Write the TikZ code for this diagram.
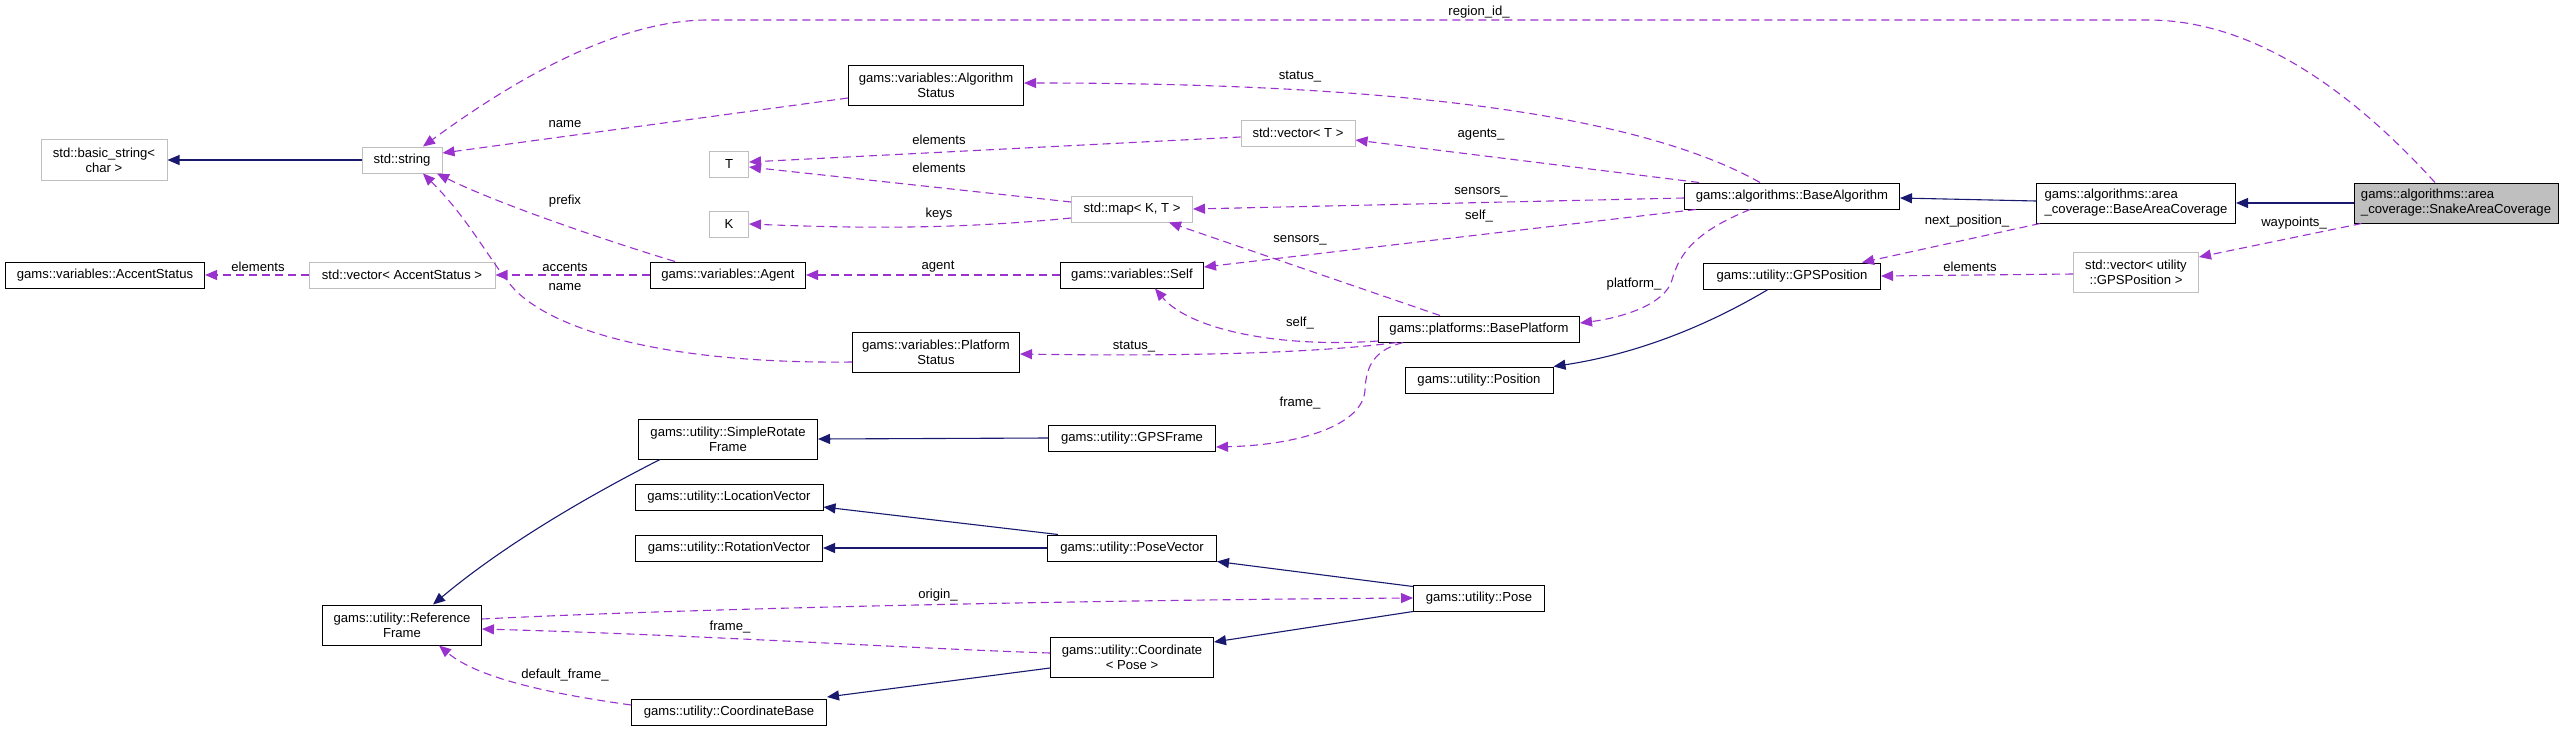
\documentclass[tikz,border=0pt]{standalone}
\usepackage{fontspec}
\setmainfont{Liberation Sans}
\usetikzlibrary{arrows.meta}
\definecolor{navyc}{HTML}{191970}
\definecolor{purpc}{HTML}{9A32CD}
\definecolor{gbord}{HTML}{BFBFBF}
\newcommand\dxfont{\fontsize{13.1}{15}\selectfont}
\begin{document}
\begin{tikzpicture}[x=1pt,y=-1pt,
 box/.style={draw=black, line width=1pt, fill=white, inner sep=0pt, font=\dxfont, align=center},
 sbox/.style={box, draw=gbord},
 inh/.style={draw=navyc, line width=1.1pt, -{Triangle[length=12pt,width=10pt]}},
 uses/.style={draw=purpc, line width=1.1pt, dash pattern=on 8pt off 5pt, -{Triangle[length=12pt,width=10pt]}},
 lab/.style={font=\dxfont, inner sep=0pt}]
\useasboundingbox[fill=white] (0,0) rectangle (2564,731);

% nodes
\node[sbox, minimum width=126pt, minimum height=41pt] (basicstr) at (104,160) {std::basic\_string<\\char >};
\node[sbox, minimum width=80pt, minimum height=26pt] (str) at (402,160) {std::string};
\node[box, minimum width=199pt, minimum height=26pt] (accst) at (105,275) {gams::variables::AccentStatus};
\node[sbox, minimum width=186pt, minimum height=26pt] (vecacc) at (402,275) {std::vector< AccentStatus >};
\node[box, minimum width=155pt, minimum height=26pt] (agent) at (728,275) {gams::variables::Agent};
\node[sbox, minimum width=39pt, minimum height=26pt] (T) at (729,164) {T};
\node[sbox, minimum width=39pt, minimum height=26pt] (K) at (729,224) {K};
\node[box, minimum width=175pt, minimum height=40pt] (algst) at (936,85) {gams::variables::Algorithm\\Status};
\node[sbox, minimum width=114pt, minimum height=26pt] (vecT) at (1298,133) {std::vector< T >};
\node[sbox, minimum width=121pt, minimum height=26pt] (map) at (1132,209) {std::map< K, T >};
\node[box, minimum width=143pt, minimum height=26pt] (self) at (1132,275) {gams::variables::Self};
\node[box, minimum width=167pt, minimum height=40pt] (platst) at (936,352) {gams::variables::Platform\\Status};
\node[box, minimum width=201pt, minimum height=26pt] (baseplat) at (1479,329) {gams::platforms::BasePlatform};
\node[box, minimum width=148pt, minimum height=26pt] (position) at (1479,380) {gams::utility::Position};
\node[box, minimum width=215pt, minimum height=26pt] (basealg) at (1792,196) {gams::algorithms::BaseAlgorithm};
\node[box, minimum width=199pt, minimum height=40pt, align=left] (baseac) at (2136,203) {gams::algorithms::area\\\_coverage::BaseAreaCoverage};
\node[box, fill=gbord, minimum width=204pt, minimum height=40pt, align=left] (snake) at (2456,203) {gams::algorithms::area\\\_coverage::SnakeAreaCoverage};
\node[box, minimum width=177pt, minimum height=26pt] (gpspos) at (1792,276) {gams::utility::GPSPosition};
\node[sbox, minimum width=125pt, minimum height=40pt] (vecgps) at (2136,272) {std::vector< utility\\::GPSPosition >};
\node[box, minimum width=179pt, minimum height=40pt] (srf) at (728,439) {gams::utility::SimpleRotate\\Frame};
\node[box, minimum width=188pt, minimum height=26pt] (locvec) at (729,497) {gams::utility::LocationVector};
\node[box, minimum width=187pt, minimum height=26pt] (rotvec) at (729,548) {gams::utility::RotationVector};
\node[box, minimum width=159pt, minimum height=40pt] (reff) at (402,625) {gams::utility::Reference\\Frame};
\node[box, minimum width=195pt, minimum height=26pt] (coordb) at (729,712) {gams::utility::CoordinateBase};
\node[box, minimum width=167pt, minimum height=26pt] (gpsframe) at (1132,438) {gams::utility::GPSFrame};
\node[box, minimum width=169pt, minimum height=26pt] (posevec) at (1132,548) {gams::utility::PoseVector};
\node[box, minimum width=131pt, minimum height=26pt] (pose) at (1479,598) {gams::utility::Pose};
\node[box, minimum width=163pt, minimum height=40pt] (coordpose) at (1132,657) {gams::utility::Coordinate\\< Pose >};

% inheritance edges
\draw[inh] (str.west) -- (basicstr.east);
\draw[inh] ([yshift=2pt]baseac.west) -- ([yshift=-2pt]basealg.east);
\draw[inh] (snake.west) -- (baseac.east);
\draw[inh] ([xshift=-24pt]gpspos.south) .. controls (1700,330) and (1630,355) .. (position.north east);
\draw[inh] (gpsframe.west) -- (srf.east);
\draw[inh] ([xshift=22pt]srf.south west) .. controls (600,490) and (510,540) .. ([xshift=31pt]reff.north);
\draw[inh] ([xshift=11pt]posevec.north west) -- ([yshift=-10pt]locvec.east);
\draw[inh] (posevec.west) -- (rotvec.east);
\draw[inh] ([yshift=-2pt]pose.north west) -- (posevec.south east);
\draw[inh] (pose.south west) -- ([yshift=15pt]coordpose.east);
\draw[inh] ([yshift=-11pt]coordpose.west) -- ([yshift=15pt]coordb.east);

% usage edges
\draw[uses] ([yshift=-13pt]algst.west) -- ([yshift=7pt]str.east);
\draw[uses] ([xshift=-53pt]agent.north) .. controls (620,245) and (500,205) .. ([xshift=35pt]str.south);
\draw[uses] ([yshift=-10pt]platst.west) .. controls (680,364) and (560,335) .. (515,290) .. controls (490,262) and (470,220) .. ([xshift=21pt]str.south);
\draw[uses] ([xshift=-21pt]snake.north) .. controls (2360,100) and (2260,20) .. (2148,20) -- (708,20) .. controls (610,20) and (500,90) .. ([xshift=21pt]str.north);
\draw[uses] (vecacc.west) -- (accst.east);
\draw[uses] (agent.west) -- (vecacc.east);
\draw[uses] (self.west) -- (agent.east);
\draw[uses] ([yshift=-4pt]vecT.west) -- ([yshift=2pt]T.east);
\draw[uses] ([yshift=7pt]map.west) -- ([yshift=-3pt]T.east);
\draw[uses] ([yshift=-9pt]map.west) .. controls (950,230) and (850,228) .. (K.east);
\draw[uses] ([xshift=15pt]basealg.north west) -- ([yshift=-7pt]vecT.east);
\draw[uses] ([yshift=-2pt]basealg.west) -- (map.east);
\draw[uses] ([xshift=12pt]basealg.south west) -- ([yshift=8pt]self.east);
\draw[uses] ([xshift=-32pt]basealg.north) .. controls (1640,115) and (1400,83) .. ([yshift=2pt]algst.east);
\draw[uses] ([xshift=-42pt]basealg.south) .. controls (1700,230) and (1680,250) .. (1672,280) .. controls (1665,305) and (1620,318) .. ([yshift=6pt]baseplat.east);
\draw[uses] ([xshift=-39pt]baseplat.north) -- ([xshift=37pt]map.south);
\draw[uses] ([yshift=-12pt]baseplat.west) .. controls (1280,348) and (1190,330) .. ([xshift=23pt]self.south);
\draw[uses] ([xshift=-82pt]baseplat.south) .. controls (1300,355) and (1150,356) .. ([yshift=-2pt]platst.east);
\draw[uses] ([xshift=-76pt]baseplat.south) .. controls (1375,350) and (1366,365) .. (1365,390) .. controls (1363,425) and (1300,445) .. ([yshift=-9pt]gpsframe.east);
\draw[uses] ([xshift=4pt]baseac.south west) -- ([xshift=70pt]gpspos.north);
\draw[uses] ([xshift=8pt]snake.south west) -- ([yshift=15pt]vecgps.east);
\draw[uses] ([yshift=-2pt]vecgps.west) -- (gpspos.east);
\draw[uses] ([yshift=6pt]reff.east) .. controls (700,608) and (1100,600) .. (pose.west);
\draw[uses] ([yshift=4pt]coordpose.west) .. controls (900,648) and (700,635) .. ([yshift=-4pt]reff.east);
\draw[uses] ([yshift=7pt]coordb.west) .. controls (560,695) and (480,680) .. ([xshift=37pt]reff.south);

% labels
\node[lab] (l1) at (1479,12) {region\_id\_};
\node[lab] (l2) at (565,124) {name};
\node[lab] (l3) at (1300,77) {status\_};
\node[lab] (l4) at (939,140) {elements};
\node[lab] (l5) at (939,168) {elements};
\node[lab] (l6) at (1481,135) {agents\_};
\node[lab] (l7) at (939,214) {keys};
\node[lab] (l8) at (1481,192) {sensors\_};
\node[lab] (l9) at (565,201) {prefix};
\node[lab] (l10) at (1479,216) {self\_};
\node[lab] (l11) at (1967,221) {next\_position\_};
\node[lab] (l12) at (2294,223) {waypoints\_};
\node[lab] (l13) at (1300,240) {sensors\_};
\node[lab] (l14) at (258,267) {elements};
\node[lab] (l15) at (565,267) {accents};
\node[lab] (l16) at (938,267) {agent};
\node[lab] (l17) at (1970,267) {elements};
\node[lab] (l18) at (1634,284) {platform\_};
\node[lab] (l19) at (565,287) {name};
\node[lab] (l20) at (1300,323) {self\_};
\node[lab] (l21) at (1134,347) {status\_};
\node[lab] (l22) at (1300,403) {frame\_};
\node[lab] (l23) at (938,595) {origin\_};
\node[lab] (l24) at (730,627) {frame\_};
\node[lab] (l25) at (565,675) {default\_frame\_};
\end{tikzpicture}
\end{document}
